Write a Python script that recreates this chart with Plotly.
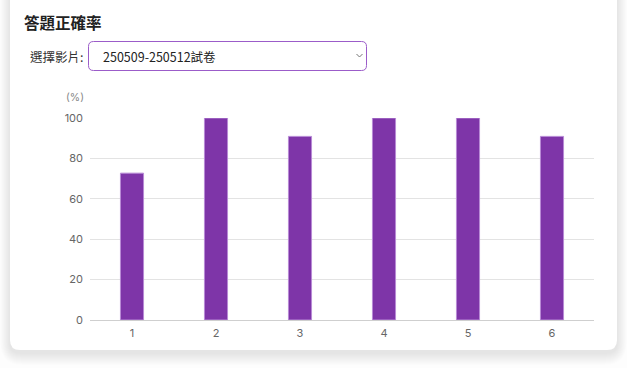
import plotly.graph_objects as go

W, H = 627, 368

categories = ["1", "2", "3", "4", "5", "6"]
accuracy = [72.7, 100, 90.9, 100, 100, 90.9]
y_ticks = [0, 20, 40, 60, 80, 100]

title_text = "答題正確率"
select_label = "選擇影片:"
select_value = "250509-250512試卷"
unit_label = "(%)"

def px(x):
    return x / W

def py(y):
    return 1 - y / H

def rrect(x0, y0, x1, y1, r):
    pts = [
        f"M {px(x0 + r)} {py(y0)}",
        f"L {px(x1 - r)} {py(y0)}",
        f"Q {px(x1)} {py(y0)} {px(x1)} {py(y0 + r)}",
        f"L {px(x1)} {py(y1 - r)}",
        f"Q {px(x1)} {py(y1)} {px(x1 - r)} {py(y1)}",
        f"L {px(x0 + r)} {py(y1)}",
        f"Q {px(x0)} {py(y1)} {px(x0)} {py(y1 - r)}",
        f"L {px(x0)} {py(y0 + r)}",
        f"Q {px(x0)} {py(y0)} {px(x0 + r)} {py(y0)}",
        "Z",
    ]
    return " ".join(pts)

shapes = []
for g in range(12, 0, -1):
    shapes.append(dict(type="path", xref="paper", yref="paper",
                       path=rrect(10 - g * 0.8, -30, 617 + g * 0.8, 350 + g + 3, 10 + g),
                       fillcolor="rgba(0,0,0,0.006)", line=dict(width=0), layer="below"))
shapes.append(dict(type="path", xref="paper", yref="paper",
                   path=rrect(10, -30, 617, 350, 10),
                   fillcolor="white", line=dict(width=0), layer="below"))
shapes.append(dict(type="path", xref="paper", yref="paper",
                   path=rrect(88.5, 41.5, 366.5, 70.5, 5),
                   fillcolor="white", line=dict(color="#9b5cc9", width=1), layer="below"))
shapes.append(dict(type="path", xref="paper", yref="paper",
                   path=f"M {px(356.5)} {py(54)} L {px(359.5)} {py(57)} L {px(362.5)} {py(54)}",
                   line=dict(color="#777777", width=1), layer="above"))

annotations = [
    dict(text=f"<b>{title_text}</b>", x=px(22), y=py(22), xref="paper", yref="paper",
         xanchor="left", yanchor="middle", showarrow=False,
         font=dict(family="Noto Sans CJK TC", size=15.5, color="#222222")),
    dict(text=select_label, x=px(28), y=py(56), xref="paper", yref="paper",
         xanchor="left", yanchor="middle", showarrow=False,
         font=dict(family="Noto Sans CJK TC", size=12.5, color="#333333")),
    dict(text=select_value, x=px(101), y=py(56), xref="paper", yref="paper",
         xanchor="left", yanchor="middle", showarrow=False,
         font=dict(family="Noto Sans CJK TC", size=12.5, color="#222222")),
    dict(text=unit_label, x=px(75), y=py(97), xref="paper", yref="paper",
         xanchor="center", yanchor="middle", showarrow=False,
         font=dict(family="Inter", size=10.5, color="#888888")),
]

fig = go.Figure(go.Bar(
    x=categories, y=accuracy, width=0.275,
    marker=dict(color="#7e35a8", line=dict(color="#b88ad6", width=1)),
    hoverinfo="skip",
))

fig.update_layout(
    width=W, height=H,
    autosize=False,
    margin=dict(l=0, r=0, t=0, b=0, pad=0, autoexpand=False),
    paper_bgcolor="#fdfdfd",
    plot_bgcolor="rgba(0,0,0,0)",
    showlegend=False,
    shapes=shapes,
    annotations=annotations,
    xaxis=dict(domain=[px(90), px(594)], type="category", automargin=False,
               showgrid=False, showline=False, zeroline=False,
               ticks="", ticklabelstandoff=5,
               tickfont=dict(family="Inter", size=11, color="#666666")),
    yaxis=dict(domain=[py(320), py(118)], range=[0, 100], automargin=False,
               tickvals=y_ticks, showgrid=True, gridcolor="#e3e3e3", gridwidth=1,
               zeroline=True, zerolinecolor="#cfcfcf", zerolinewidth=1,
               showline=False, ticks="", ticklabelstandoff=6,
               tickfont=dict(family="Inter", size=11, color="#666666")),
)

post = (
    "document.documentElement.style.margin='0';"
    "document.documentElement.style.overflow='hidden';"
    "document.body.style.margin='0';"
    "document.body.style.padding='0';"
    "document.body.style.overflow='hidden';"
)

fig.write_html("out.html", config={"responsive": False, "displayModeBar": False},
               post_script=post)
